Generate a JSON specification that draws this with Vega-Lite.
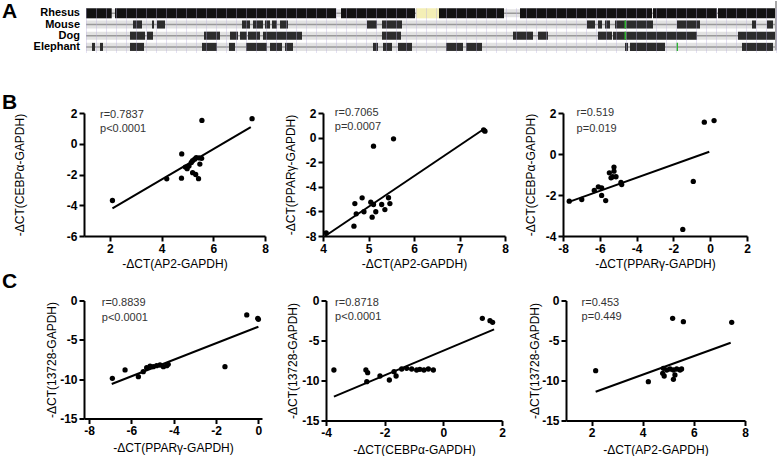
{
  "$schema": "https://vega.github.io/schema/vega-lite/v6.json",
  "padding": {"left": 2, "top": 0, "right": 0, "bottom": 0},
  "autosize": {"type": "pad"},
  "spacing": 39,
  "config": {
    "view": {"stroke": null},
    "font": "Liberation Sans",
    "axis": {
      "domainColor": "#000", "domainWidth": 2, "tickColor": "#000", "tickWidth": 2, "tickSize": 5,
      "labelFont": "Liberation Sans", "labelFontWeight": "bold", "labelFontSize": 12, "labelColor": "#000", "labelPadding": 2,
      "titleFont": "Liberation Sans", "titleFontSize": 12, "titleFontWeight": "normal", "titleColor": "#000",
      "grid": false, "labelFlush": false, "labelOverlap": false, "tickCount": 20,
      "labelExpr": "datum.value < 0 ? '-' + abs(datum.value) : '' + datum.value"
    }
  },
  "datasets": {
    "species": [{"species": "Rhesus"}, {"species": "Mouse"}, {"species": "Dog"}, {"species": "Elephant"}],
    "tracks": [
      {"species": "Rhesus", "start": 0, "end": 25.7, "type": "aligned"},
      {"species": "Rhesus", "start": 29, "end": 250, "type": "aligned"},
      {"species": "Rhesus", "start": 255, "end": 329, "type": "aligned"},
      {"species": "Rhesus", "start": 330, "end": 353, "type": "unknown"},
      {"species": "Rhesus", "start": 353, "end": 418, "type": "aligned"},
      {"species": "Rhesus", "start": 434, "end": 566, "type": "aligned"},
      {"species": "Rhesus", "start": 567, "end": 631, "type": "aligned"},
      {"species": "Rhesus", "start": 632, "end": 689, "type": "aligned"},
      {"species": "Mouse", "start": 47, "end": 56, "type": "aligned"},
      {"species": "Mouse", "start": 66, "end": 68, "type": "aligned"},
      {"species": "Mouse", "start": 71, "end": 79, "type": "aligned"},
      {"species": "Mouse", "start": 156, "end": 164, "type": "aligned"},
      {"species": "Mouse", "start": 167, "end": 177, "type": "aligned"},
      {"species": "Mouse", "start": 179, "end": 184, "type": "aligned"},
      {"species": "Mouse", "start": 186, "end": 191, "type": "aligned"},
      {"species": "Mouse", "start": 194, "end": 202, "type": "aligned"},
      {"species": "Mouse", "start": 281, "end": 291, "type": "aligned"},
      {"species": "Mouse", "start": 296, "end": 316, "type": "aligned"},
      {"species": "Mouse", "start": 501, "end": 509, "type": "aligned"},
      {"species": "Mouse", "start": 512, "end": 516, "type": "aligned"},
      {"species": "Mouse", "start": 519, "end": 524, "type": "aligned"},
      {"species": "Mouse", "start": 529, "end": 567, "type": "aligned"},
      {"species": "Mouse", "start": 591, "end": 614, "type": "aligned"},
      {"species": "Mouse", "start": 666, "end": 670, "type": "aligned"},
      {"species": "Mouse", "start": 681, "end": 687, "type": "aligned"},
      {"species": "Mouse", "start": 538.5, "end": 540, "type": "insertion"},
      {"species": "Dog", "start": 44, "end": 59, "type": "aligned"},
      {"species": "Dog", "start": 61, "end": 67, "type": "aligned"},
      {"species": "Dog", "start": 118, "end": 134, "type": "aligned"},
      {"species": "Dog", "start": 144, "end": 152, "type": "aligned"},
      {"species": "Dog", "start": 154, "end": 161, "type": "aligned"},
      {"species": "Dog", "start": 162, "end": 174, "type": "aligned"},
      {"species": "Dog", "start": 177, "end": 216, "type": "aligned"},
      {"species": "Dog", "start": 296, "end": 315, "type": "aligned"},
      {"species": "Dog", "start": 427, "end": 447, "type": "aligned"},
      {"species": "Dog", "start": 452, "end": 462, "type": "aligned"},
      {"species": "Dog", "start": 512, "end": 526, "type": "aligned"},
      {"species": "Dog", "start": 527, "end": 611, "type": "aligned"},
      {"species": "Dog", "start": 652, "end": 689, "type": "aligned"},
      {"species": "Dog", "start": 538.5, "end": 540, "type": "insertion"},
      {"species": "Elephant", "start": 6, "end": 9, "type": "aligned"},
      {"species": "Elephant", "start": 14, "end": 17, "type": "aligned"},
      {"species": "Elephant", "start": 44, "end": 58, "type": "aligned"},
      {"species": "Elephant", "start": 116, "end": 131, "type": "aligned"},
      {"species": "Elephant", "start": 143, "end": 149, "type": "aligned"},
      {"species": "Elephant", "start": 160, "end": 181, "type": "aligned"},
      {"species": "Elephant", "start": 184, "end": 196, "type": "aligned"},
      {"species": "Elephant", "start": 199, "end": 207, "type": "aligned"},
      {"species": "Elephant", "start": 287, "end": 292, "type": "aligned"},
      {"species": "Elephant", "start": 297, "end": 306, "type": "aligned"},
      {"species": "Elephant", "start": 312, "end": 326, "type": "aligned"},
      {"species": "Elephant", "start": 360, "end": 377, "type": "aligned"},
      {"species": "Elephant", "start": 380, "end": 396, "type": "aligned"},
      {"species": "Elephant", "start": 539, "end": 542, "type": "aligned"},
      {"species": "Elephant", "start": 544, "end": 579, "type": "aligned"},
      {"species": "Elephant", "start": 656, "end": 687, "type": "aligned"},
      {"species": "Elephant", "start": 590.5, "end": 592, "type": "insertion"}
    ],
    "b1": [
      {"ap2": 2.1, "cebpa": -3.69}, {"ap2": 4.2, "cebpa": -2.28}, {"ap2": 4.78, "cebpa": -0.66}, {"ap2": 4.77, "cebpa": -2.24},
      {"ap2": 4.92, "cebpa": -1.52}, {"ap2": 4.99, "cebpa": -1.62}, {"ap2": 5.06, "cebpa": -1.45}, {"ap2": 5.15, "cebpa": -1.22},
      {"ap2": 5.2, "cebpa": -1.1}, {"ap2": 5.28, "cebpa": -1.0}, {"ap2": 5.34, "cebpa": -0.9}, {"ap2": 5.45, "cebpa": -0.92},
      {"ap2": 5.55, "cebpa": -0.95}, {"ap2": 5.48, "cebpa": -1.32}, {"ap2": 5.2, "cebpa": -1.88}, {"ap2": 5.32, "cebpa": -2.0},
      {"ap2": 5.43, "cebpa": -2.27}, {"ap2": 5.56, "cebpa": 1.52}, {"ap2": 7.5, "cebpa": 1.63}
    ],
    "b1_fit": [{"x": 2.1, "y": -4.21, "x2": 7.45, "y2": 1.08}],
    "b1_stats": [{"label": "r=0.7837", "x": 1.62, "y": 1.9}, {"label": "p<0.0001", "x": 1.62, "y": 0.97}],
    "b2": [
      {"ap2": 4.07, "ppar": -7.74}, {"ap2": 4.7, "ppar": -5.36}, {"ap2": 4.86, "ppar": -4.9}, {"ap2": 4.73, "ppar": -6.2},
      {"ap2": 4.9, "ppar": -6.03}, {"ap2": 4.68, "ppar": -7.2}, {"ap2": 5.05, "ppar": -5.25}, {"ap2": 5.11, "ppar": -5.44},
      {"ap2": 5.16, "ppar": -6.03}, {"ap2": 5.08, "ppar": -6.47}, {"ap2": 5.29, "ppar": -5.44}, {"ap2": 5.36, "ppar": -5.85},
      {"ap2": 5.44, "ppar": -4.89}, {"ap2": 5.47, "ppar": -5.36}, {"ap2": 5.11, "ppar": -0.7}, {"ap2": 5.55, "ppar": -0.1},
      {"ap2": 7.56, "ppar": 0.52}, {"ap2": 7.53, "ppar": 0.62}
    ],
    "b2_fit": [{"x": 4.04, "y": -8.02, "x2": 7.52, "y2": 0.66}],
    "b2_stats": [{"label": "r=0.7065", "x": 4.26, "y": 2.02}, {"label": "p=0.0007", "x": 4.26, "y": 0.88}],
    "b3": [
      {"ppar": -7.66, "cebpa": -2.3}, {"ppar": -6.98, "cebpa": -2.22}, {"ppar": -6.3, "cebpa": -1.78}, {"ppar": -6.08, "cebpa": -1.6},
      {"ppar": -5.9, "cebpa": -2.02}, {"ppar": -5.9, "cebpa": -1.65}, {"ppar": -5.68, "cebpa": -2.27}, {"ppar": -5.48, "cebpa": -0.92},
      {"ppar": -5.39, "cebpa": -1.16}, {"ppar": -5.23, "cebpa": -0.84}, {"ppar": -5.23, "cebpa": -0.64}, {"ppar": -5.3, "cebpa": -1.11},
      {"ppar": -5.12, "cebpa": -1.11}, {"ppar": -4.81, "cebpa": -1.49}, {"ppar": -4.85, "cebpa": -1.38}, {"ppar": -1.49, "cebpa": -3.68},
      {"ppar": -0.92, "cebpa": -1.34}, {"ppar": -0.32, "cebpa": 1.55}, {"ppar": 0.21, "cebpa": 1.63}
    ],
    "b3_fit": [{"x": -7.71, "y": -2.35, "x2": -0.05, "y2": 0.11}],
    "b3_stats": [{"label": "r=0.519", "x": -7.26, "y": 1.98}, {"label": "p=0.019", "x": -7.26, "y": 1.24}],
    "c1": [
      {"ppar": -6.9, "g13728": -9.89}, {"ppar": -6.3, "g13728": -8.83}, {"ppar": -5.67, "g13728": -9.68}, {"ppar": -5.44, "g13728": -9.05},
      {"ppar": -5.28, "g13728": -8.54}, {"ppar": -5.12, "g13728": -8.33}, {"ppar": -4.97, "g13728": -8.41}, {"ppar": -4.81, "g13728": -8.28},
      {"ppar": -4.65, "g13728": -8.2}, {"ppar": -4.49, "g13728": -8.41}, {"ppar": -4.33, "g13728": -8.28}, {"ppar": -4.26, "g13728": -8.11},
      {"ppar": -1.58, "g13728": -8.41}, {"ppar": -0.55, "g13728": -1.84}, {"ppar": -0.03, "g13728": -2.27}, {"ppar": 0.0, "g13728": -2.39}
    ],
    "c1_fit": [{"x": -6.93, "y": -10.61, "x2": 0.0, "y2": -3.33}],
    "c1_stats": [{"label": "r=0.8839", "x": -7.4, "y": -0.36}, {"label": "p<0.0001", "x": -7.4, "y": -2.19}],
    "c2": [
      {"cebpa": -3.73, "g13728": -8.69}, {"cebpa": -2.64, "g13728": -8.69}, {"cebpa": -2.58, "g13728": -9.02}, {"cebpa": -2.61, "g13728": -10.15},
      {"cebpa": -2.16, "g13728": -9.44}, {"cebpa": -1.84, "g13728": -9.94}, {"cebpa": -1.61, "g13728": -9.44}, {"cebpa": -1.68, "g13728": -8.9},
      {"cebpa": -1.42, "g13728": -8.56}, {"cebpa": -1.25, "g13728": -8.48}, {"cebpa": -1.08, "g13728": -8.56}, {"cebpa": -0.91, "g13728": -8.69},
      {"cebpa": -0.8, "g13728": -8.6}, {"cebpa": -0.66, "g13728": -8.69}, {"cebpa": -0.51, "g13728": -8.56}, {"cebpa": -0.34, "g13728": -8.69},
      {"cebpa": 1.33, "g13728": -2.23}, {"cebpa": 1.59, "g13728": -2.52}, {"cebpa": 1.68, "g13728": -2.73}
    ],
    "c2_fit": [{"x": -3.73, "y": -12.02, "x2": 1.73, "y2": -3.6}],
    "c2_stats": [{"label": "r=0.8718", "x": -3.69, "y": -0.35}, {"label": "p<0.0001", "x": -3.69, "y": -2.03}],
    "c3": [
      {"ap2": 2.16, "g13728": -8.77}, {"ap2": 4.22, "g13728": -10.15}, {"ap2": 4.81, "g13728": -8.48}, {"ap2": 4.78, "g13728": -9.1},
      {"ap2": 4.84, "g13728": -9.44}, {"ap2": 4.94, "g13728": -8.69}, {"ap2": 5.07, "g13728": -8.56}, {"ap2": 5.2, "g13728": -8.69},
      {"ap2": 5.33, "g13728": -8.56}, {"ap2": 5.46, "g13728": -8.69}, {"ap2": 5.52, "g13728": -8.56}, {"ap2": 5.2, "g13728": -9.85},
      {"ap2": 5.26, "g13728": -9.31}, {"ap2": 5.17, "g13728": -2.23}, {"ap2": 5.59, "g13728": -2.65}, {"ap2": 7.48, "g13728": -2.73}
    ],
    "c3_fit": [{"x": 2.16, "y": -11.4, "x2": 7.44, "y2": -5.28}],
    "c3_stats": [{"label": "r=0.453", "x": 1.61, "y": -0.35}, {"label": "p=0.449", "x": 1.61, "y": -2.1}]
  },
  "vconcat": [
    {
      "width": 692,
      "height": 49.5,
      "encoding": {
        "y": {"field": "species", "type": "nominal", "scale": {"domain": ["Rhesus", "Mouse", "Dog", "Elephant"], "range": [6.7, 51.5], "paddingInner": 0, "paddingOuter": 0}, "axis": null}
      },
      "layer": [
        {
          "data": {"name": "species"},
          "mark": {"type": "bar", "height": {"band": 0.72}, "color": "#e2e2e2"},
          "encoding": {
            "x": {"datum": 0, "type": "quantitative", "scale": {"domain": [-2, 690], "nice": false, "zero": false},
                  "axis": {"domain": false, "ticks": false, "labels": false, "title": null, "grid": true, "gridColor": "#b8aee0", "gridOpacity": 0.38, "gridWidth": 1, "tickCount": 70, "orient": "top", "zindex": 1}},
            "x2": {"datum": 689}
          }
        },
        {
          "data": {"name": "species"},
          "mark": {"type": "rule", "color": "#9a9a9a", "strokeWidth": 1.5},
          "encoding": {"x": {"datum": 0, "type": "quantitative"}, "x2": {"datum": 689}}
        },
        {
          "data": {"name": "tracks"},
          "transform": [{"filter": "datum.species !== 'Rhesus' && datum.type === 'aligned'"}],
          "mark": {"type": "bar", "height": {"band": 0.72}, "color": "#2c2c2c"},
          "encoding": {"x": {"field": "start", "type": "quantitative"}, "x2": {"field": "end"}}
        },
        {
          "data": {"name": "tracks"},
          "transform": [{"filter": "datum.species === 'Rhesus' && datum.type === 'aligned'"}],
          "mark": {"type": "bar", "height": {"band": 0.9}, "color": "#121212"},
          "encoding": {"x": {"field": "start", "type": "quantitative"}, "x2": {"field": "end"}}
        },
        {
          "data": {"name": "tracks"},
          "transform": [{"filter": "datum.type === 'unknown'"}],
          "mark": {"type": "bar", "height": {"band": 0.9}, "color": "#f4efb6"},
          "encoding": {"x": {"field": "start", "type": "quantitative"}, "x2": {"field": "end"}}
        },
        {
          "data": {"name": "tracks"},
          "transform": [{"filter": "datum.type === 'insertion'"}],
          "mark": {"type": "bar", "height": {"band": 0.72}, "color": "#2fb52f"},
          "encoding": {"x": {"field": "start", "type": "quantitative"}, "x2": {"field": "end"}}
        },
        {
          "data": {"name": "species"},
          "mark": {"type": "text", "align": "right", "baseline": "middle", "dx": -6, "fontSize": 11, "fontWeight": "bold", "color": "#000"},
          "encoding": {"x": {"datum": 0, "type": "quantitative"}, "text": {"field": "species"}}
        },
        {
          "data": {"values": [{"panel": "A"}]},
          "mark": {"type": "text", "align": "left", "baseline": "middle", "dy": -1, "fontSize": 21, "fontWeight": "bold", "color": "#000"},
          "encoding": {"x": {"datum": -84, "type": "quantitative"}, "y": {"datum": "Rhesus"}, "text": {"field": "panel"}}
        },
        {
          "data": {"values": [{"edge": "view end"}]},
          "mark": {"type": "rule", "color": "#8a8a8a", "strokeWidth": 1.5},
          "encoding": {"x": {"datum": 690, "type": "quantitative"}, "y": null}
        }
      ]
    },
    {
      "spacing": 1.5,
      "vconcat": [
        {
          "spacing": 58,
          "bounds": "flush",
          "hconcat": [
            {
              "width": 181, "height": 123,
              "layer": [
                {"data": {"name": "b1"}, "mark": {"type": "circle", "size": 28, "opacity": 1, "color": "#000"},
                 "encoding": {
                   "x": {"field": "ap2", "type": "quantitative", "title": "-ΔCT(AP2-GAPDH)", "scale": {"domain": [1, 8], "nice": false, "zero": false}, "axis": {"values": [2, 4, 6, 8], "tickCount": 20, "titlePadding": 4}},
                   "y": {"field": "cebpa", "type": "quantitative", "title": "-ΔCT(CEBPα-GAPDH)", "scale": {"domain": [-6, 2], "nice": false, "zero": false}, "axis": {"values": [-6, -4, -2, 0, 2], "tickCount": 20, "titlePadding": 40}}}},
                {"data": {"name": "b1_fit"}, "mark": {"type": "rule", "strokeWidth": 2, "color": "#000"},
                 "encoding": {"x": {"field": "x", "type": "quantitative", "title": "-ΔCT(AP2-GAPDH)", "scale": {"domain": [1, 8], "nice": false, "zero": false}}, "y": {"field": "y", "type": "quantitative", "title": "-ΔCT(CEBPα-GAPDH)", "scale": {"domain": [-6, 2], "nice": false, "zero": false}}, "x2": {"field": "x2"}, "y2": {"field": "y2"}}},
                {"data": {"name": "b1_stats"}, "mark": {"type": "text", "align": "left", "baseline": "middle", "fontSize": 11, "color": "#333"},
                 "encoding": {"x": {"field": "x", "type": "quantitative", "title": "-ΔCT(AP2-GAPDH)", "scale": {"domain": [1, 8], "nice": false, "zero": false}}, "y": {"field": "y", "type": "quantitative", "title": "-ΔCT(CEBPα-GAPDH)", "scale": {"domain": [-6, 2], "nice": false, "zero": false}}, "text": {"field": "label"}}},
                {"data": {"values": [{"panel": "B"}]}, "mark": {"type": "text", "align": "left", "baseline": "middle", "fontSize": 21, "fontWeight": "bold", "color": "#000"},
                 "encoding": {"x": {"datum": -2.17, "type": "quantitative", "scale": {"domain": [1, 8], "nice": false, "zero": false}}, "y": {"datum": 2.66, "type": "quantitative", "scale": {"domain": [-6, 2], "nice": false, "zero": false}}, "text": {"field": "panel"}}}
              ]
            },
            {
              "width": 182, "height": 123,
              "layer": [
                {"data": {"name": "b2"}, "mark": {"type": "circle", "size": 28, "opacity": 1, "color": "#000"},
                 "encoding": {
                   "x": {"field": "ap2", "type": "quantitative", "title": "-ΔCT(AP2-GAPDH)", "scale": {"domain": [4, 8], "nice": false, "zero": false}, "axis": {"values": [4, 5, 6, 7, 8], "tickCount": 20, "titlePadding": 4}},
                   "y": {"field": "ppar", "type": "quantitative", "title": "-ΔCT(PPARγ-GAPDH)", "scale": {"domain": [-8, 2], "nice": false, "zero": false}, "axis": {"values": [-8, -6, -4, -2, 0, 2], "tickCount": 20, "titlePadding": 8}}}},
                {"data": {"name": "b2_fit"}, "mark": {"type": "rule", "strokeWidth": 2, "color": "#000"},
                 "encoding": {"x": {"field": "x", "type": "quantitative", "title": "-ΔCT(AP2-GAPDH)", "scale": {"domain": [4, 8], "nice": false, "zero": false}}, "y": {"field": "y", "type": "quantitative", "title": "-ΔCT(PPARγ-GAPDH)", "scale": {"domain": [-8, 2], "nice": false, "zero": false}}, "x2": {"field": "x2"}, "y2": {"field": "y2"}}},
                {"data": {"name": "b2_stats"}, "mark": {"type": "text", "align": "left", "baseline": "middle", "fontSize": 11, "color": "#333"},
                 "encoding": {"x": {"field": "x", "type": "quantitative", "title": "-ΔCT(AP2-GAPDH)", "scale": {"domain": [4, 8], "nice": false, "zero": false}}, "y": {"field": "y", "type": "quantitative", "title": "-ΔCT(PPARγ-GAPDH)", "scale": {"domain": [-8, 2], "nice": false, "zero": false}}, "text": {"field": "label"}}}
              ]
            },
            {
              "width": 184, "height": 123,
              "layer": [
                {"data": {"name": "b3"}, "mark": {"type": "circle", "size": 28, "opacity": 1, "color": "#000"},
                 "encoding": {
                   "x": {"field": "ppar", "type": "quantitative", "title": "-ΔCT(PPARγ-GAPDH)", "scale": {"domain": [-8, 2], "nice": false, "zero": false}, "axis": {"values": [-8, -6, -4, -2, 0, 2], "tickCount": 20, "titlePadding": 4}},
                   "y": {"field": "cebpa", "type": "quantitative", "title": "-ΔCT(CEBPα-GAPDH)", "scale": {"domain": [-4, 2], "nice": false, "zero": false}, "axis": {"values": [-4, -2, 0, 2], "tickCount": 20, "titlePadding": 8}}}},
                {"data": {"name": "b3_fit"}, "mark": {"type": "rule", "strokeWidth": 2, "color": "#000"},
                 "encoding": {"x": {"field": "x", "type": "quantitative", "title": "-ΔCT(PPARγ-GAPDH)", "scale": {"domain": [-8, 2], "nice": false, "zero": false}}, "y": {"field": "y", "type": "quantitative", "title": "-ΔCT(CEBPα-GAPDH)", "scale": {"domain": [-4, 2], "nice": false, "zero": false}}, "x2": {"field": "x2"}, "y2": {"field": "y2"}}},
                {"data": {"name": "b3_stats"}, "mark": {"type": "text", "align": "left", "baseline": "middle", "fontSize": 11, "color": "#333"},
                 "encoding": {"x": {"field": "x", "type": "quantitative", "title": "-ΔCT(PPARγ-GAPDH)", "scale": {"domain": [-8, 2], "nice": false, "zero": false}}, "y": {"field": "y", "type": "quantitative", "title": "-ΔCT(CEBPα-GAPDH)", "scale": {"domain": [-4, 2], "nice": false, "zero": false}}, "text": {"field": "label"}}}
              ]
            }
          ]
        },
        {
          "spacing": 64,
          "bounds": "flush",
          "hconcat": [
            {
              "width": 178, "height": 118,
              "layer": [
                {"data": {"name": "c1"}, "mark": {"type": "circle", "size": 28, "opacity": 1, "color": "#000"},
                 "encoding": {
                   "x": {"field": "ppar", "type": "quantitative", "title": "-ΔCT(PPARγ-GAPDH)", "scale": {"domain": [-8.24, 0.17], "nice": false, "zero": false}, "axis": {"values": [-8, -6, -4, -2, 0], "tickCount": 20, "titlePadding": 6}},
                   "y": {"field": "g13728", "type": "quantitative", "title": "-ΔCT(13728-GAPDH)", "scale": {"domain": [-15, 0], "nice": false, "zero": false}, "axis": {"values": [-15, -10, -5, 0], "tickCount": 20, "titlePadding": 1}}}},
                {"data": {"name": "c1_fit"}, "mark": {"type": "rule", "strokeWidth": 2, "color": "#000"},
                 "encoding": {"x": {"field": "x", "type": "quantitative", "title": "-ΔCT(PPARγ-GAPDH)", "scale": {"domain": [-8.24, 0.17], "nice": false, "zero": false}}, "y": {"field": "y", "type": "quantitative", "title": "-ΔCT(13728-GAPDH)", "scale": {"domain": [-15, 0], "nice": false, "zero": false}}, "x2": {"field": "x2"}, "y2": {"field": "y2"}}},
                {"data": {"name": "c1_stats"}, "mark": {"type": "text", "align": "left", "baseline": "middle", "fontSize": 11, "color": "#333"},
                 "encoding": {"x": {"field": "x", "type": "quantitative", "title": "-ΔCT(PPARγ-GAPDH)", "scale": {"domain": [-8.24, 0.17], "nice": false, "zero": false}}, "y": {"field": "y", "type": "quantitative", "title": "-ΔCT(13728-GAPDH)", "scale": {"domain": [-15, 0], "nice": false, "zero": false}}, "text": {"field": "label"}}},
                {"data": {"values": [{"panel": "C"}]}, "mark": {"type": "text", "align": "left", "baseline": "middle", "fontSize": 21, "fontWeight": "bold", "color": "#000"},
                 "encoding": {"x": {"datum": -12.11, "type": "quantitative", "scale": {"domain": [-8.24, 0.17], "nice": false, "zero": false}}, "y": {"datum": 2.29, "type": "quantitative", "scale": {"domain": [-15, 0], "nice": false, "zero": false}}, "text": {"field": "panel"}}}
              ]
            },
            {
              "width": 176, "height": 120,
              "layer": [
                {"data": {"name": "c2"}, "mark": {"type": "circle", "size": 28, "opacity": 1, "color": "#000"},
                 "encoding": {
                   "x": {"field": "cebpa", "type": "quantitative", "title": "-ΔCT(CEBPα-GAPDH)", "scale": {"domain": [-4, 2], "nice": false, "zero": false}, "axis": {"values": [-4, -2, 0, 2], "tickCount": 20, "titlePadding": 6}},
                   "y": {"field": "g13728", "type": "quantitative", "title": "-ΔCT(13728-GAPDH)", "scale": {"domain": [-15, 0], "nice": false, "zero": false}, "axis": {"values": [-15, -10, -5, 0], "tickCount": 20, "titlePadding": 2}}}},
                {"data": {"name": "c2_fit"}, "mark": {"type": "rule", "strokeWidth": 2, "color": "#000"},
                 "encoding": {"x": {"field": "x", "type": "quantitative", "title": "-ΔCT(CEBPα-GAPDH)", "scale": {"domain": [-4, 2], "nice": false, "zero": false}}, "y": {"field": "y", "type": "quantitative", "title": "-ΔCT(13728-GAPDH)", "scale": {"domain": [-15, 0], "nice": false, "zero": false}}, "x2": {"field": "x2"}, "y2": {"field": "y2"}}},
                {"data": {"name": "c2_stats"}, "mark": {"type": "text", "align": "left", "baseline": "middle", "fontSize": 11, "color": "#333"},
                 "encoding": {"x": {"field": "x", "type": "quantitative", "title": "-ΔCT(CEBPα-GAPDH)", "scale": {"domain": [-4, 2], "nice": false, "zero": false}}, "y": {"field": "y", "type": "quantitative", "title": "-ΔCT(13728-GAPDH)", "scale": {"domain": [-15, 0], "nice": false, "zero": false}}, "text": {"field": "label"}}}
              ]
            },
            {
              "width": 179, "height": 120,
              "layer": [
                {"data": {"name": "c3"}, "mark": {"type": "circle", "size": 28, "opacity": 1, "color": "#000"},
                 "encoding": {
                   "x": {"field": "ap2", "type": "quantitative", "title": "-ΔCT(AP2-GAPDH)", "scale": {"domain": [1, 8], "nice": false, "zero": false}, "axis": {"values": [2, 4, 6, 8], "tickCount": 20, "titlePadding": 6}},
                   "y": {"field": "g13728", "type": "quantitative", "title": "-ΔCT(13728-GAPDH)", "scale": {"domain": [-15, 0], "nice": false, "zero": false}, "axis": {"values": [-15, -10, -5, 0], "tickCount": 20, "titlePadding": 0}}}},
                {"data": {"name": "c3_fit"}, "mark": {"type": "rule", "strokeWidth": 2, "color": "#000"},
                 "encoding": {"x": {"field": "x", "type": "quantitative", "title": "-ΔCT(AP2-GAPDH)", "scale": {"domain": [1, 8], "nice": false, "zero": false}}, "y": {"field": "y", "type": "quantitative", "title": "-ΔCT(13728-GAPDH)", "scale": {"domain": [-15, 0], "nice": false, "zero": false}}, "x2": {"field": "x2"}, "y2": {"field": "y2"}}},
                {"data": {"name": "c3_stats"}, "mark": {"type": "text", "align": "left", "baseline": "middle", "fontSize": 11, "color": "#333"},
                 "encoding": {"x": {"field": "x", "type": "quantitative", "title": "-ΔCT(AP2-GAPDH)", "scale": {"domain": [1, 8], "nice": false, "zero": false}}, "y": {"field": "y", "type": "quantitative", "title": "-ΔCT(13728-GAPDH)", "scale": {"domain": [-15, 0], "nice": false, "zero": false}}, "text": {"field": "label"}}}
              ]
            }
          ]
        }
      ]
    }
  ]
}
